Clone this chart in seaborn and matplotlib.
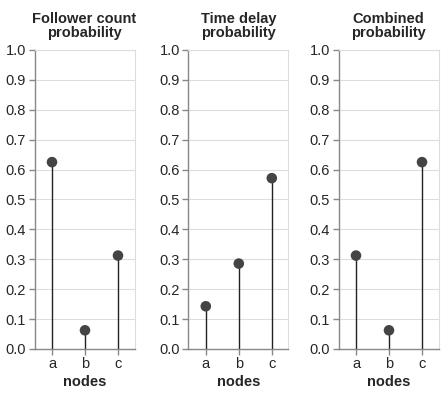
import pandas as pd
import matplotlib
matplotlib.use("Agg")
import matplotlib.pyplot as plt
import seaborn as sns

# datos
nodes = ["a", "b", "c"]
follower = [0.625, 0.0625, 0.3125]
delay = [0.1429, 0.2857, 0.5714]
combined = [0.3125, 0.0625, 0.625]
titles = ["Follower count\nprobability", "Time delay\nprobability", "Combined\nprobability"]
yticks = [0.0, 0.1, 0.2, 0.3, 0.4, 0.5, 0.6, 0.7, 0.8, 0.9, 1.0]

sns.set_style("white")
plt.rcParams["font.family"] = ["Liberation Sans", "DejaVu Sans"]

fig = plt.figure(figsize=(4.44, 3.96), dpi=100)
lefts = [34.5, 188.3, 338.5]

for i, (vals, title) in enumerate(zip([follower, delay, combined], titles)):
    ax = fig.add_axes([lefts[i] / 444, 47 / 396, 100 / 444, 299 / 396])
    df = pd.DataFrame({"nodes": nodes, "p": vals})
    ax.vlines(df["nodes"], 0, df["p"], color="#222222", linewidth=1.0, zorder=2)
    sns.scatterplot(data=df, x="nodes", y="p", ax=ax, color="#444444", s=58,
                    edgecolor="none", zorder=3)
    ax.set_xlim(-0.53, 2.5)
    ax.set_ylim(0, 1)
    ax.set_yticks(yticks)
    ax.set_yticklabels([f"{t:.1f}" for t in yticks])
    ax.grid(axis="y", color="#dddddd", linewidth=0.8, zorder=0)
    ax.set_axisbelow(True)
    for s in ["top", "right"]:
        ax.spines[s].set_color("#dddddd")
        ax.spines[s].set_linewidth(0.8)
    for s in ["left", "bottom"]:
        ax.spines[s].set_color("#888888")
        ax.spines[s].set_linewidth(1)
    ax.tick_params(axis="both", length=4, width=1, color="#888888",
                   labelsize=10.5, pad=2, direction="out", left=True, bottom=True)
    ax.set_xlabel("nodes", fontsize=10.5, fontweight="bold", labelpad=3)
    ax.set_ylabel("")
    ax.set_title(title, fontsize=10.5, fontweight="bold", pad=9.5, linespacing=1.0)

fig.savefig("out.png", dpi=100)
